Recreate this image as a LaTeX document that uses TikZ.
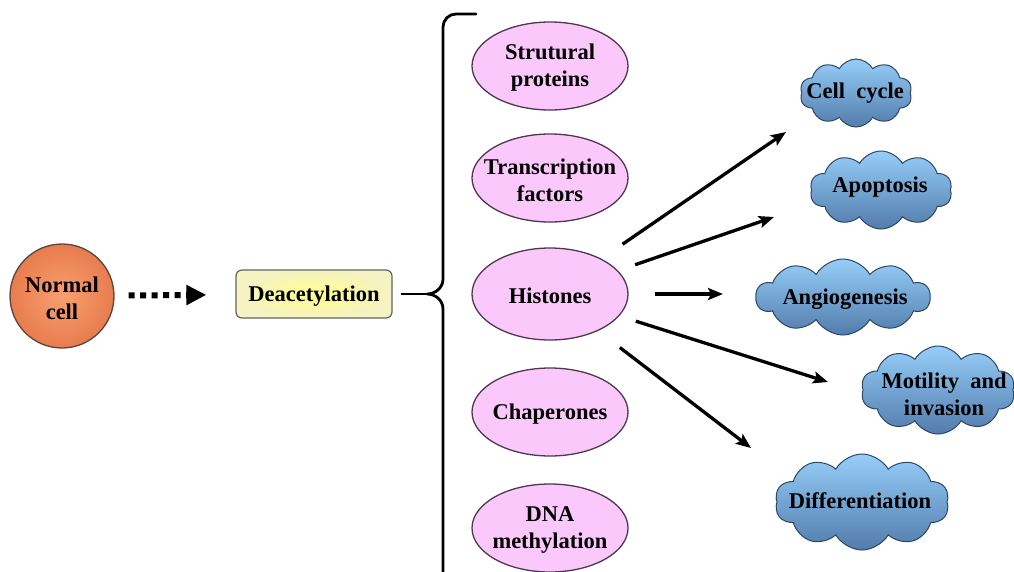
\documentclass[tikz,border=0pt]{standalone}
\usepackage{fontspec}
\setmainfont{Liberation Serif}
\usetikzlibrary{shapes.geometric,shapes.symbols,arrows.meta}
\definecolor{cellin}{RGB}{248,160,112}
\definecolor{cellout}{RGB}{232,124,78}
\definecolor{celledge}{RGB}{90,70,60}
\definecolor{yelin}{RGB}{255,255,140}
\definecolor{yelout}{RGB}{245,242,196}
\definecolor{boxedge}{RGB}{100,100,90}
\definecolor{pinkfill}{RGB}{250,200,250}
\definecolor{pinkedge}{RGB}{80,55,80}
\definecolor{cloudtop}{RGB}{150,206,248}
\definecolor{cloudbot}{RGB}{82,124,172}
\definecolor{cloudedge}{RGB}{45,70,100}
\begin{document}
\begin{tikzpicture}[x=1pt,y=-1pt,
  lbl/.style={font=\bfseries\fontsize{22.5}{27}\selectfont, align=center, inner sep=0pt, text=black, yshift=-2pt},
  pinkell/.style={ellipse, draw=pinkedge, line width=1.3pt, fill=pinkfill, minimum width=156pt, minimum height=88pt, inner sep=0pt},
  cloudy/.style={cloud, cloud puffs=10, cloud puff arc=120, cloud ignores aspect, draw=cloudedge, line width=1pt, top color=cloudtop, bottom color=cloudbot, inner sep=0pt},
  arr/.style={line width=3.3pt, -{Stealth[length=15pt,width=12pt,inset=3pt]}}
]
\useasboundingbox (0,0) rectangle (1014,571);

% normal cell
\node[circle, draw=celledge, line width=1.3pt, inner color=cellin, outer color=cellout, minimum size=104pt, inner sep=0pt] (nc) at (62,296) {};
\node[lbl] (nct) at (nc) {Normal\\cell};

% deacetylation
\node[rectangle, rounded corners=6pt, draw=boxedge, line width=1.2pt, inner color=yelin, outer color=yelout, minimum width=156pt, minimum height=48pt, inner sep=0pt] (de) at (314,294) {};
\node[lbl] (det) at (de) {Deacetylation};

\draw[line width=6pt, dash pattern=on 6pt off 5.5pt, shorten <=14pt, shorten >=29pt, -{Triangle[length=20pt,width=19pt]}] (nc) -- (de);

% brace
\coordinate (bt) at (427,294);
\draw[line width=2.8pt] (de.east) ++(8,0) -- (bt);
\draw[line width=2.8pt, line cap=round] (476,14) -- (456,14) to[out=180,in=90] (443,27) -- (443,279) to[out=-90,in=0] (bt)
      (bt) to[out=0,in=90] (443,309) -- (443,580);

% pink ellipses
\node[pinkell] (sp) at (550,66) {};
\node[lbl] (spt) at (sp) {Strutural\\proteins};
\node[pinkell] (tf) at (550,178) {};
\node[lbl] (tft) at (tf) {Transcription\\factors};
\node[pinkell, minimum height=92pt] (hi) at (550,294) {};
\node[lbl] (hit) at (hi) {Histones};
\node[pinkell] (ch) at (550,412) {};
\node[lbl] (cht) at (ch) {Chaperones};
\node[pinkell] (dm) at (550,528) {};
\node[lbl] (dmt) at (dm) {DNA\\methylation};

% clouds
\node[cloudy, minimum width=112pt, minimum height=68pt] (cc) at (856,93) {};
\node[lbl] (cct) at (855,91) {Cell\ \ cycle};
\node[cloudy, minimum width=142pt, minimum height=78pt] (ap) at (881,190) {};
\node[lbl] (apt) at (880,185) {Apoptosis};
\node[cloudy, minimum width=174pt, minimum height=76pt] (ag) at (843,297) {};
\node[lbl] (agt) at (845,297) {Angiogenesis};
\node[cloudy, minimum width=154pt, minimum height=88pt] (mo) at (938,390) {};
\node[lbl] (mot) at (944,392) {Motility\ \ and\\invasion};
\node[cloudy, minimum width=174pt, minimum height=96pt] (di) at (862,502) {};
\node[lbl] (dit) at (860,499) {Differentiation};

% arrows from histones
\coordinate (t1) at (786,132);
\coordinate (t2) at (774,217);
\coordinate (t3) at (723,294);
\coordinate (t4) at (828,382);
\coordinate (t5) at (751,448);
\draw[arr, shorten <=88pt] (hi.center) -- (t1);
\draw[arr, shorten <=90pt] (hi.center) -- (t2);
\draw[arr, shorten <=105pt] (hi.center) -- (t3);
\draw[arr, shorten <=90pt] (hi.center) -- (t4);
\draw[arr, shorten <=88pt] (hi.center) -- (t5);
\end{tikzpicture}
\end{document}
